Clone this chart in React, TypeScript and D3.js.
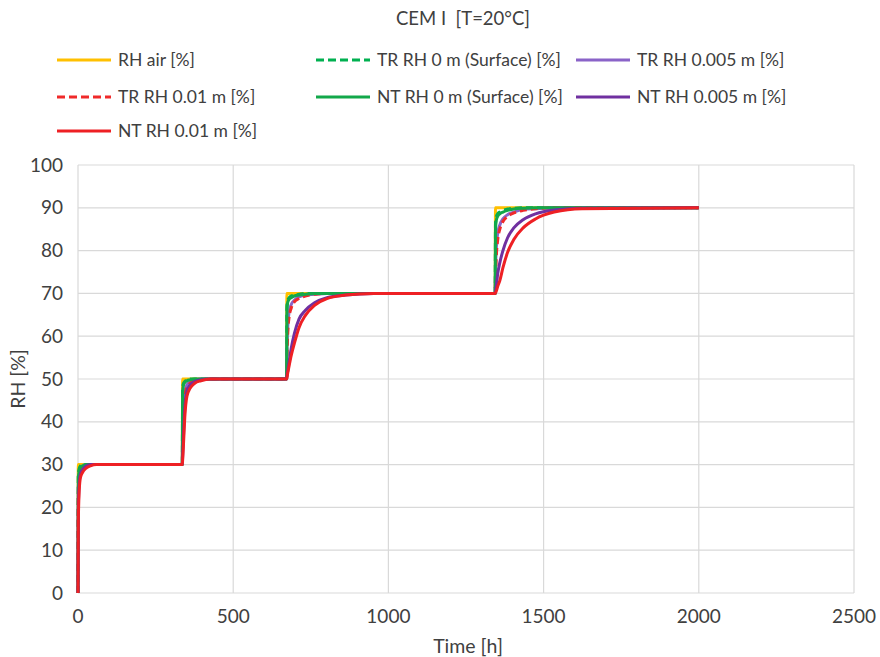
import React from 'react';
import * as d3 from 'd3';

// time axis shared by all series (h)
const timeH = [
  0, 1, 4, 8, 15, 25, 40, 60, 90, 130, 190, 280,
  336, 337, 340, 344, 351, 361, 376, 396, 426, 466, 526, 616,
  672, 673, 676, 680, 687, 697, 712, 732, 762, 802, 862, 952,
  1344, 1345, 1348, 1352, 1359, 1369, 1384, 1404, 1434, 1474, 1534, 1624,
  2000,
];

const rhAir = [
  0, 30, 30, 30, 30, 30, 30, 30, 30, 30, 30, 30,
  30, 50, 50, 50, 50, 50, 50, 50, 50, 50, 50, 50,
  50, 70, 70, 70, 70, 70, 70, 70, 70, 70, 70, 70,
  70, 90, 90, 90, 90, 90, 90, 90, 90, 90, 90, 90,
  90,
];
const trSurface = [
  0, 27.9, 29.1, 29.7, 30, 30, 30, 30, 30, 30, 30, 30,
  30, 48, 49, 49.4, 49.8, 50, 50, 50, 50, 50, 50, 50,
  50, 67, 68.4, 69, 69.4, 69.6, 69.8, 70, 70, 70, 70, 70,
  70, 86.4, 88, 88.6, 89, 89.4, 89.7, 89.9, 90, 90, 90, 90,
  90,
];
const tr005 = [
  0, 24, 27.9, 28.8, 29.7, 30, 30, 30, 30, 30, 30, 30,
  30, 36, 44, 47, 48.6, 49.4, 49.8, 50, 50, 50, 50, 50,
  50, 56, 62.4, 65.6, 67.4, 68.4, 69.2, 69.6, 69.8, 70, 70, 70,
  70, 75, 81, 84, 86, 87.4, 88.4, 89, 89.6, 89.8, 90, 90,
  90,
];
const tr001 = [
  0, 22.5, 27, 28.5, 29.4, 29.7, 30, 30, 30, 30, 30, 30,
  30, 34, 42, 46, 48, 49, 49.6, 49.8, 50, 50, 50, 50,
  50, 54, 61, 64.4, 66.6, 68, 68.8, 69.4, 69.8, 70, 70, 70,
  70, 73, 79, 82.4, 85, 86.8, 88, 88.8, 89.4, 89.8, 90, 90,
  90,
];
const ntSurface = [
  0, 27, 28.5, 29.4, 29.7, 30, 30, 30, 30, 30, 30, 30,
  30, 47, 48.6, 49.2, 49.6, 49.8, 50, 50, 50, 50, 50, 50,
  50, 66, 68, 68.6, 69, 69.4, 69.6, 69.8, 70, 70, 70, 70,
  70, 85, 87.2, 88, 88.6, 89, 89.4, 89.7, 89.9, 90, 90, 90,
  90,
];
const nt005 = [
  0, 19.5, 25.8, 27.9, 28.8, 29.6, 30, 30, 30, 30, 30, 30,
  30, 31.6, 37, 43, 47.2, 48.6, 49.4, 49.8, 50, 50, 50, 50,
  50, 50.6, 52, 54, 57.2, 60.6, 64, 66, 67.8, 69, 69.6, 69.95,
  70, 70.5, 72, 74.5, 77.2, 80, 83, 85.3, 87.2, 88.6, 89.5, 89.9,
  90,
];
const nt001 = [
  0, 16.5, 24, 27, 28.2, 29.1, 29.7, 30, 30, 30, 30, 30,
  30, 31, 35, 41, 46, 47.8, 49, 49.6, 50, 50, 50, 50,
  50, 50.3, 51.5, 53, 55.5, 58.3, 62, 64.8, 67.2, 68.8, 69.6, 70,
  70, 70.1, 70.6, 71.6, 73, 76, 79.6, 82.6, 85.3, 87.4, 89, 89.8,
  90,
];

const xTicks = [0, 500, 1000, 1500, 2000, 2500];
const yTicks = [0, 10, 20, 30, 40, 50, 60, 70, 80, 90, 100];

const series = [
  { name: 'RH air [%]', values: rhAir, color: '#FFC000', dash: null },
  { name: 'TR RH 0 m (Surface) [%]', values: trSurface, color: '#00B050', dash: '7,4' },
  { name: 'TR RH 0.005 m [%]', values: tr005, color: '#8A63C8', dash: null },
  { name: 'TR RH 0.01 m [%]', values: tr001, color: '#F02A2A', dash: '7,4' },
  { name: 'NT RH 0 m (Surface) [%]', values: ntSurface, color: '#12A84A', dash: null },
  { name: 'NT RH 0.005 m [%]', values: nt005, color: '#7030A0', dash: null },
  { name: 'NT RH 0.01 m [%]', values: nt001, color: '#EE2024', dash: null },
];

// legend grid: reading order as in the reference
const legendCells = [
  { s: 0, col: 0, row: 0 }, { s: 1, col: 1, row: 0 }, { s: 2, col: 2, row: 0 },
  { s: 3, col: 0, row: 1 }, { s: 4, col: 1, row: 1 }, { s: 5, col: 2, row: 1 },
  { s: 6, col: 0, row: 2 },
];
const legendColX = [57, 316, 576];
const legendRowY = [60, 97, 131];

const W = 880, H = 657;
const m = { left: 78, right: 854, top: 165, bottom: 593 };
const font = 'Lato, "Open Sans", sans-serif';
const ink = '#404040';

export default function App() {
  const x = d3.scaleLinear().domain([0, 2500]).range([m.left, m.right]);
  const y = d3.scaleLinear().domain([0, 100]).range([m.bottom, m.top]);

  const line = (vals) =>
    d3.line<number>()
      .x((_, i) => x(timeH[i]))
      .y(d => y(d))
      .curve(d3.curveMonotoneX)(vals);

  return (
    <svg width={W} height={H} style={{ position: 'absolute', left: 0, top: 0, background: '#fff' }}
      fontFamily={font}>
      <text x={463} y={25} textAnchor="middle" fontSize={18.5} fill={ink}
        style={{ whiteSpace: 'pre' }}>CEM I  [T=20°C]</text>

      {legendCells.map(({ s, col, row }) => {
        const sr = series[s];
        const lx = legendColX[col], ly = legendRowY[row];
        return (
          <g key={s}>
            <line x1={lx} x2={lx + 54} y1={ly} y2={ly} stroke={sr.color} strokeWidth={3}
              strokeDasharray={sr.dash ? '8,4' : undefined} />
            <text x={lx + 61} y={ly + 6} fontSize={17.5} fill={ink}>{sr.name}</text>
          </g>
        );
      })}

      {yTicks.map(t => (
        <g key={'y' + t}>
          <line x1={m.left} x2={m.right} y1={y(t)} y2={y(t)} stroke="#d9d9d9" strokeWidth={1.2} />
          <text x={63} y={y(t) + 6.5} textAnchor="end" fontSize={19} fill={ink}>{t}</text>
        </g>
      ))}
      {xTicks.map(t => (
        <g key={'x' + t}>
          <line x1={x(t)} x2={x(t)} y1={m.top} y2={m.bottom} stroke="#d9d9d9" strokeWidth={1.2} />
          <text x={x(t)} y={623} textAnchor="middle" fontSize={19} fill={ink}>{t}</text>
        </g>
      ))}

      {series.map(sr => (
        <path key={sr.name} d={line(sr.values) || ''} fill="none" stroke={sr.color}
          strokeWidth={3} strokeDasharray={sr.dash || undefined} strokeLinejoin="round" />
      ))}

      <text x={468} y={653} textAnchor="middle" fontSize={19.5} fill={ink}>Time [h]</text>
      <text transform={`translate(25,${(m.top + m.bottom) / 2}) rotate(-90)`} textAnchor="middle"
        fontSize={19.5} fill={ink}>RH [%]</text>
    </svg>
  );
}
